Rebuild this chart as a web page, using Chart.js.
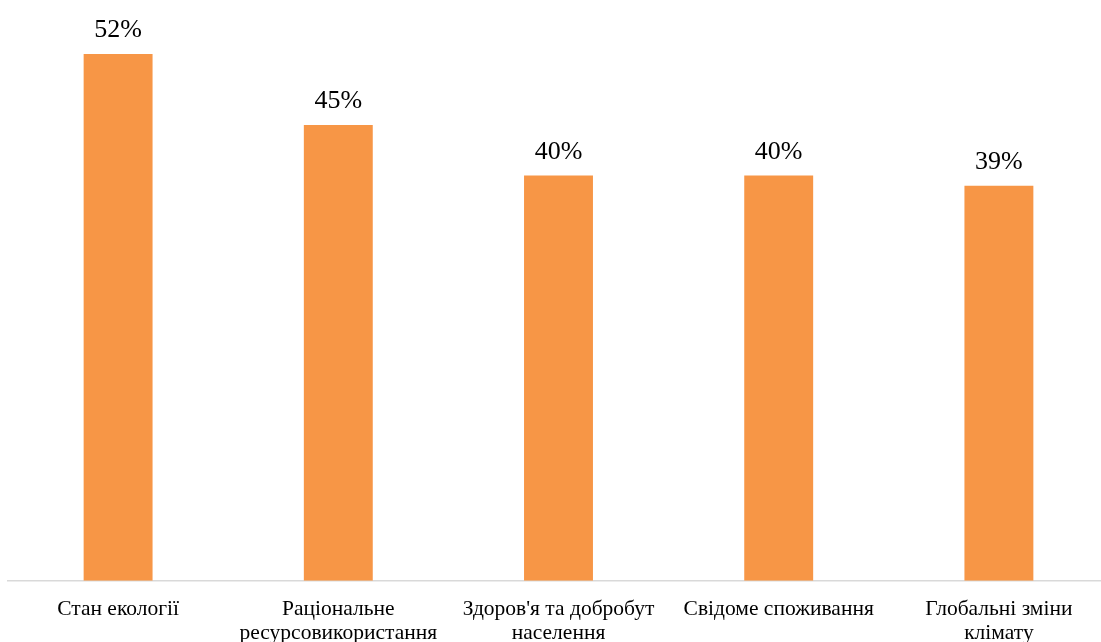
<!DOCTYPE html>
<html>
<head>
<meta charset="utf-8">
<script src="https://cdn.jsdelivr.net/npm/chart.js@4.4.0/dist/chart.umd.min.js"></script>
<style>
  html, body { margin: 0; padding: 0; background: #fff; overflow: hidden; }
  #wrap { width: 1110px; height: 661px; position: relative; }
</style>
</head>
<body>
<div id="wrap"><canvas id="chart"></canvas></div>
<script>
// ====== DATA
const categories = [
  'Стан екології',
  ['Раціональне', 'ресурсовикористання'],
  ["Здоров'я та добробут", 'населення'],
  'Свідоме споживання',
  ['Глобальні зміни', 'клімату']
];
const shares = [52, 45, 40, 40, 39];
const valueLabels = ['52%', '45%', '40%', '40%', '39%'];

// ====== bar value labels plugin
const barLabels = {
  id: 'barLabels',
  afterDatasetsDraw(chart) {
    const ctx = chart.ctx;
    const meta = chart.getDatasetMeta(0);
    ctx.save();
    ctx.font = '26px "Liberation Serif", "Times New Roman", serif';
    ctx.fillStyle = '#000';
    ctx.textAlign = 'center';
    ctx.textBaseline = 'alphabetic';
    meta.data.forEach((bar, i) => {
      ctx.fillText(valueLabels[i], bar.x, bar.y - 17);
    });
    ctx.restore();
  }
};

window.addEventListener('DOMContentLoaded', () => {
  const ctx = document.getElementById('chart').getContext('2d');
  new Chart(ctx, {
    type: 'bar',
    data: {
      labels: categories,
      datasets: [{
        data: shares,
        backgroundColor: '#F79646',
        borderWidth: 0,
        categoryPercentage: 1,
        barPercentage: 0.313
      }]
    },
    options: {
      responsive: true,
      maintainAspectRatio: false,
      animation: false,
      layout: { padding: { top: 13.5, left: 8, right: 1, bottom: 0 } },
      plugins: { legend: { display: false }, tooltip: { enabled: false } },
      scales: {
        x: {
          grid: { display: false, drawTicks: false },
          border: { display: true, color: '#D9D9D9', width: 1.5 },
          ticks: {
            color: '#000',
            font: { family: '"Liberation Serif", "Times New Roman", serif', size: 21.5, lineHeight: 1.12 },
            padding: 16,
            maxRotation: 0,
            autoSkip: false
          }
        },
        y: { display: false, min: 0, max: 56 }
      }
    },
    plugins: [barLabels]
  });
});
</script>
</body>
</html>
